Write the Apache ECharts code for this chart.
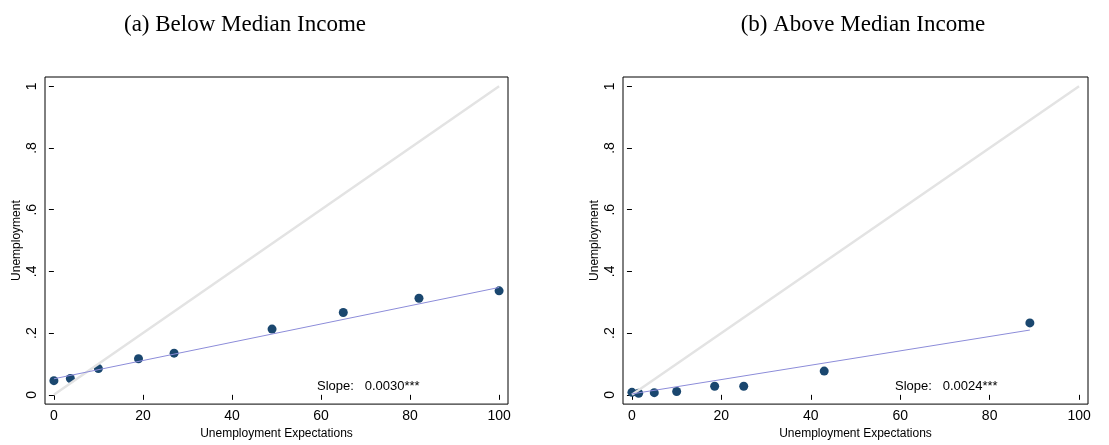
<!DOCTYPE html>
<html><head><meta charset="utf-8">
<script src="https://cdn.jsdelivr.net/npm/echarts@6/dist/echarts.min.js"></script>
<style>html,body{margin:0;background:#fff}#c{width:1109px;height:445px}</style>
</head><body><div id="c"></div>
<script>
var belowPts = [[0,0.046],[3.7,0.053],[10,0.085],[19,0.117],[27,0.135],[49,0.213],[65,0.267],[82,0.313],[100,0.337]];
var belowFit = [[0,0.052],[100,0.348]];
var abovePts = [[0,0.008],[1.5,0.005],[5,0.007],[10,0.011],[18.5,0.028],[25,0.028],[43,0.077],[89,0.233]];
var aboveFit = [[0,0.003],[89,0.21]];
var diag = [[0,0],[100,1]];
var xTicks = [0,20,40,60,80,100];
var yTicks = [0,0.2,0.4,0.6,0.8,1];
var titles = ['(a) Below Median Income','(b) Above Median Income'];
var slopes = ['Slope:   0.0030***','Slope:   0.0024***'];

var myChart = echarts.init(document.getElementById('c'));
var font = 'Liberation Sans, Arial, sans-serif';
var grids = [{left:45, top:77, width:463, height:331, show:true, borderColor:'#000', borderWidth:1},
             {left:623, top:77, width:465, height:331, show:true, borderColor:'#000', borderWidth:1}];
function xAx(i){
    return {gridIndex:i, type:'value', min:-2, max:102, splitLine:{show:false},
        axisLine:{show:false}, axisTick:{inside:false, customValues:xTicks, length:5, lineStyle:{color:'#000'}},
        axisLabel:{customValues:xTicks, color:'#000', fontSize:14, fontFamily:font, margin:5},
        name:'Unemployment Expectations', nameLocation:'middle', nameGap:20,
        nameTextStyle:{color:'#000', fontSize:12, fontFamily:font}};
}
function yAx(i){
    return {gridIndex:i, type:'value', min:-0.03, max:1.03, splitLine:{show:false},
        axisLine:{show:false}, axisTick:{inside:false, customValues:yTicks, length:5, lineStyle:{color:'#000'}},
        axisLabel:{customValues:yTicks, rotate:90, color:'#000', fontSize:14, fontFamily:font, margin:6,
            formatter:function(v){ return v === 0 ? '0' : (v === 1 ? '1' : '.' + Math.round(v*10)); }},
        name:'Unemployment', nameLocation:'middle', nameGap:22,
        nameTextStyle:{color:'#000', fontSize:12, fontFamily:font}};
}
var series = [];
[[belowPts, belowFit],[abovePts, aboveFit]].forEach(function(d, i){
    series.push({type:'line', xAxisIndex:i, yAxisIndex:i, data:diag, symbol:'none', silent:true,
        lineStyle:{color:'#e3e3e3', width:2.5}});
    series.push({type:'line', xAxisIndex:i, yAxisIndex:i, data:d[1], symbol:'none',
        lineStyle:{color:'#8c8cd9', width:1}});
    series.push({type:'scatter', xAxisIndex:i, yAxisIndex:i, data:d[0], symbolSize:9,
        itemStyle:{color:'#1a476f', opacity:1}});
});
option = {
    animation:false,
    title:[
        {text:titles[0], left:240, top:8, textAlign:'center', textStyle:{fontFamily:'Liberation Serif, serif', fontWeight:'normal', fontSize:23, color:'#000'}},
        {text:titles[1], left:858, top:8, textAlign:'center', textStyle:{fontFamily:'Liberation Serif, serif', fontWeight:'normal', fontSize:23, color:'#000'}},
        {text:slopes[0], left:312, top:375, textStyle:{fontFamily:font, fontWeight:'normal', fontSize:13, color:'#000'}},
        {text:slopes[1], left:890, top:375, textStyle:{fontFamily:font, fontWeight:'normal', fontSize:13, color:'#000'}}
    ],
    grid:grids,
    xAxis:[xAx(0), xAx(1)],
    yAxis:[yAx(0), yAx(1)],
    series:series
};
myChart.setOption(option);
</script></body></html>
